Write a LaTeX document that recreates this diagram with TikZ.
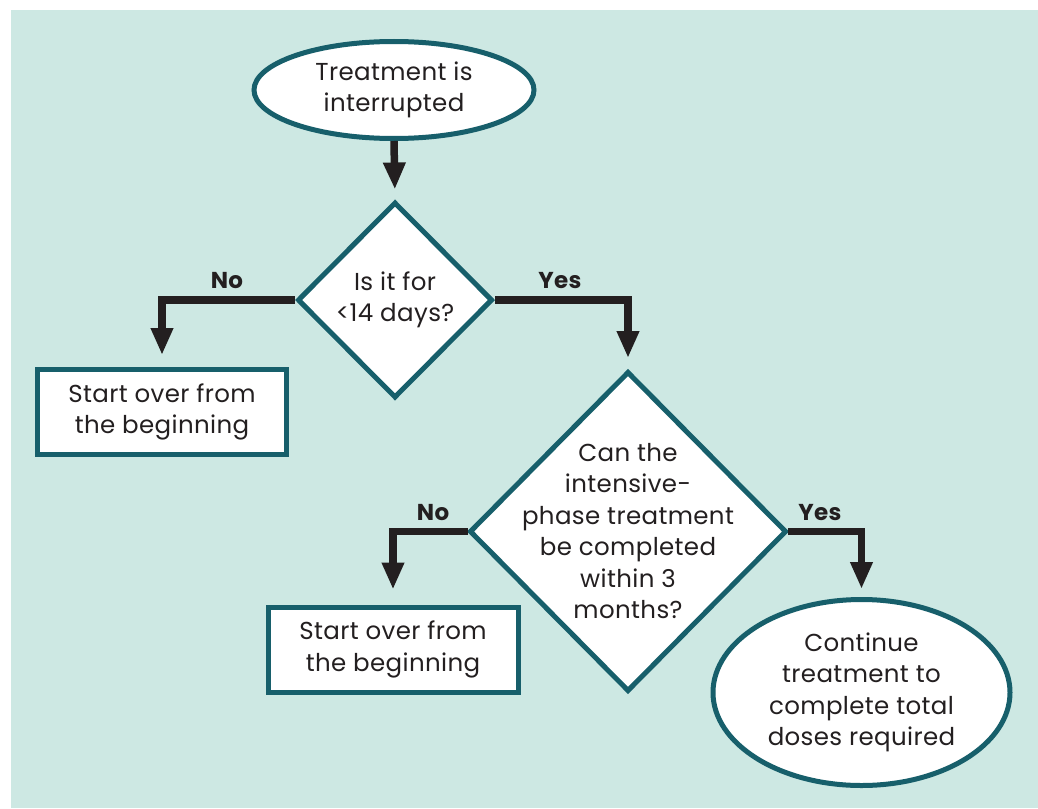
\documentclass[tikz,border=0pt]{standalone}
\usepackage{fontspec}
\setmainfont[LetterSpace=1.5]{Poppins}
\usetikzlibrary{shapes.geometric,arrows.meta}
\definecolor{bgc}{HTML}{CDE8E3}
\definecolor{teal}{HTML}{175F6B}
\definecolor{ink}{HTML}{231F20}
\tikzset{
  every node/.style={text=ink, font=\fontsize{24.5}{31.5}\selectfont, align=center},
  outl/.style={draw=teal, line width=5pt, fill=white, inner sep=0pt},
  oval/.style={outl, ellipse},
  dia/.style={outl, diamond},
  boxx/.style={outl, rectangle},
  lbl/.style={font=\fontsize{23}{28}\selectfont\bfseries},
  arr/.style={draw=ink, line width=7.5pt, line join=miter, -{Triangle[width=21pt,length=27pt]}}
}
\begin{document}
\begin{tikzpicture}[x=1pt,y=-1pt]
\useasboundingbox (0,0) rectangle (1038,808);
\fill[white] (0,0) rectangle (1038,808);
\fill[bgc] (11,10) rectangle (1038,808);
\node[oval, minimum width=280pt, minimum height=97pt] (start) at (394,90) {Treatment is\\interrupted};
\node[dia, minimum width=195pt, minimum height=196pt] (d1) at (395,300) {Is it for\\<14 days?};
\node[boxx, minimum width=249pt, minimum height=85pt] (b1) at (162,412) {Start over from\\the beginning};
% second decision diamond drawn as a path
\coordinate (d2n) at (628,372.5);
\coordinate (d2s) at (628,690.5);
\coordinate (d2w) at (470.5,531.5);
\coordinate (d2e) at (785.5,531.5);
\draw[draw=teal, line width=5pt, fill=white, line join=miter] (d2n) -- (d2e) -- (d2s) -- (d2w) -- cycle;
\node (d2) at (628,531) {Can the\\intensive-\\phase treatment\\be completed\\within 3\\months?};
\coordinate (d2top) at (628,370);
\coordinate (d2left) at (468,531.5);
\coordinate (d2right) at (788,531.5);
\node[boxx, minimum width=250pt, minimum height=85pt] (b2) at (393,649.5) {Start over from\\the beginning};
\node[oval, minimum width=297pt, minimum height=186pt] (e2) at (861.5,692.5) {Continue\\treatment to\\complete total\\doses required};
\draw[arr, shorten >=10pt] (start.south) -- (d1.north);
\draw[arr, shorten >=12pt] (d1.west) -| (b1.north);
\draw[arr, shorten >=12pt] (d1.east) -| (d2top);
\draw[arr, shorten >=15pt] (d2left) -| (b2.north);
\draw[arr, shorten >=8pt] (d2right) -| (e2.north);
\node[lbl] (no1) at (227,281) {No};
\node[lbl] (yes1) at (560,281) {Yes};
\node[lbl] (no2) at (433,513) {No};
\node[lbl] (yes2) at (820,513) {Yes};
\end{tikzpicture}
\end{document}
